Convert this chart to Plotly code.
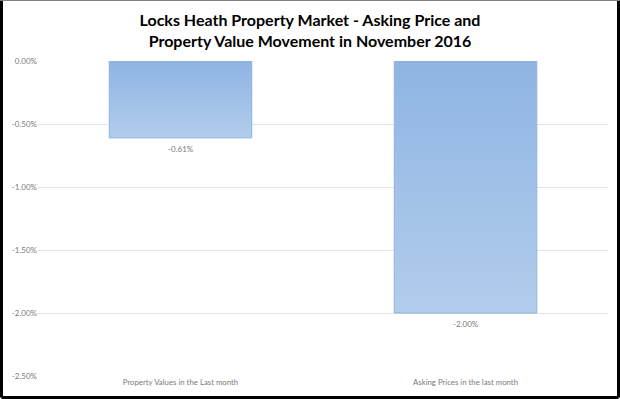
import plotly.graph_objects as go

categories = ["Property Values in the Last month", "Asking Prices in the last month"]
values = [-0.0061, -0.02]
labels = ["-0.61%", "-2.00%"]
tick_vals = [0, -0.005, -0.01, -0.015, -0.02, -0.025]
tick_text = ["0.00%", "-0.50%", "-1.00%", "-1.50%", "-2.00%", "-2.50%"]

W, H = 620, 399
ml, mr, mt, mb = 38, 12, 61, 23
bar_w = 0.5
font_fam = "Lato"
tick_col = "#7a7a7a"

fig = go.Figure()
for i, v in enumerate(values):
    x0, x1 = i - bar_w / 2, i + bar_w / 2
    fig.add_trace(go.Scatter(
        x=[x0, x1, x1, x0, x0], y=[0, 0, v, v, 0],
        mode="lines", fill="toself",
        line=dict(color="#8db2e2", width=1),
        fillgradient=dict(type="vertical",
                          colorscale=[[0, "#b2cdec"], [1, "#8fb4e3"]]),
        hoverinfo="skip", showlegend=False,
    ))

for i, (v, t) in enumerate(zip(values, labels)):
    fig.add_annotation(x=i, y=v, text=t, showarrow=False,
                       xanchor="center", yanchor="top", yshift=-4,
                       font=dict(size=8, color=tick_col, family=font_fam))

fig.update_layout(
    width=W, height=H,
    margin=dict(l=ml, r=mr, t=mt, b=mb),
    paper_bgcolor="white", plot_bgcolor="white",
    title=dict(text="<b>Locks Heath Property Market - Asking Price and<br>Property Value Movement in November 2016</b>",
               x=0.5, xanchor="center", yref="container", y=1 - 26 / H, yanchor="middle",
               font=dict(family=font_fam, size=16, color="black")),
    xaxis=dict(range=[-0.5, 1.5], tickvals=[0, 1], ticktext=categories,
               showgrid=False, zeroline=False, showline=False,
               tickfont=dict(size=7.8, color=tick_col, family=font_fam),
               ticks=""),
    yaxis=dict(range=[-0.025, 0], tickvals=tick_vals, ticktext=tick_text,
               showgrid=True, gridcolor="#e3e3e3", gridwidth=1,
               zeroline=False, showline=False,
               tickfont=dict(size=8, color=tick_col, family=font_fam),
               ticks=""),
)

pw, ph = W - ml - mr, H - mt - mb
L = (-ml + 1.5) / pw
R = 1 + (mr - 1.5) / pw
B = (-mb + 1.5) / ph
T = 1 + (mt - 0.5) / ph
for (xa, ya, xb, yb, col, w) in [
    (L, B, L, T, "black", 3),
    (R, B, R, T, "black", 3),
    (L, B, R, B, "black", 3),
    (L, T, R, T, "#808080", 1),
]:
    fig.add_shape(type="line", xref="paper", yref="paper",
                  x0=xa, y0=ya, x1=xb, y1=yb,
                  line=dict(color=col, width=w), layer="above")

fig.write_html("out.html", config={"displayModeBar": False},
               post_script="document.body.style.margin='0';")
